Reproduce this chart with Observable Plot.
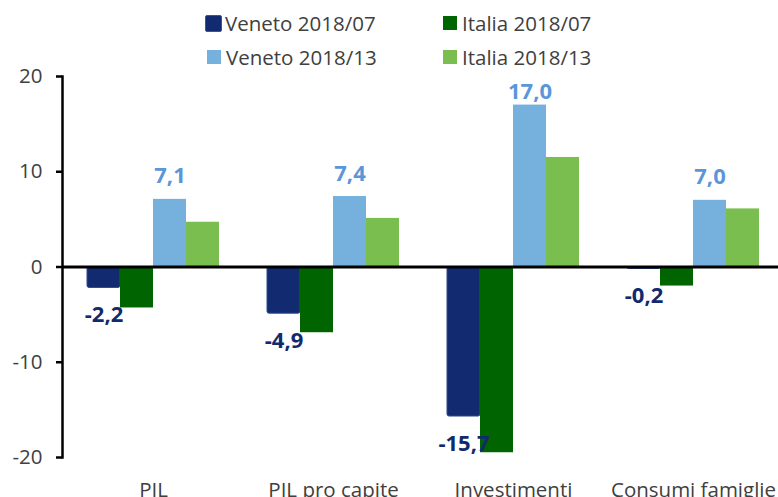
<!DOCTYPE html>
<html>
<head>
<meta charset="utf-8">
<script src="https://cdn.jsdelivr.net/npm/d3@7"></script>
<script src="https://cdn.jsdelivr.net/npm/@observablehq/plot@0.6"></script>
<style>
  html, body { margin: 0; padding: 0; background: #fff; }
  body { width: 778px; height: 497px; overflow: hidden; font-family: "Open Sans", sans-serif; }
  #legend { position: relative; height: 66px; width: 778px; font-size: 20.5px; color: #404040; }
  .item { position: absolute; display: flex; align-items: center; height: 24px; white-space: nowrap; }
  .sw { width: 14px; height: 14px; margin-right: 5px; box-sizing: border-box; }
</style>
</head>
<body>
<div id="legend"></div>
<div id="chart"></div>
<script>
const categories = ["PIL", "PIL pro capite", "Investimenti", "Consumi famiglie"];
const seriesNames = ["Veneto 2018/07", "Italia 2018/07", "Veneto 2018/13", "Italia 2018/13"];
const veneto07 = [-2.2, -4.9, -15.7, -0.2];
const italia07 = [-4.3, -6.9, -19.5, -2.0];
const veneto13 = [7.1, 7.4, 17.0, 7.0];
const italia13 = [4.7, 5.1, 11.5, 6.1];
const yTicks = [-20, -10, 0, 10, 20];

const colors = ["#112a70", "#006400", "#76b1de", "#7abe4f"];
const seriesValues = [veneto07, italia07, veneto13, italia13];
const rows = seriesValues.map((vals, i) =>
  categories.map((c, j) => ({category: c, value: vals[j], series: seriesNames[i]}))
);
const fmt = v => v.toFixed(1).replace(".", ",");

// Legend (HTML, above the SVG)
const legend = document.getElementById("legend");
const legendPos = [[207, 11], [443, 11], [207, 45], [443, 45]];
seriesNames.forEach((name, i) => {
  const it = document.createElement("div");
  it.className = "item";
  it.style.left = legendPos[i][0] + "px";
  it.style.top = legendPos[i][1] + "px";
  const sw = document.createElement("span");
  sw.className = "sw";
  sw.style.background = colors[i];
  if (i === 0) { sw.style.border = "1px solid #3a5596"; sw.style.borderRadius = "2px"; sw.style.width = "17px"; sw.style.height = "17px"; sw.style.marginLeft = "-2px"; sw.style.marginRight = "3px"; }
  const tx = document.createElement("span");
  tx.textContent = name;
  it.appendChild(sw);
  it.appendChild(tx);
  legend.appendChild(it);
});

const BW = 33; // single bar width in px
const marks = [];
rows.forEach((r, i) => {
  marks.push(Plot.barY(r, {
    x: "category", y: "value", fill: colors[i],
    insetLeft: BW * i, insetRight: BW * (3 - i),
    ...(i === 0 ? {stroke: "#2e4a8f", strokeWidth: 1, rx: 2} : {})
  }));
});
marks.push(Plot.ruleY([0], {stroke: "black", strokeWidth: 3}));
marks.push(Plot.frame({anchor: "left", stroke: "black", strokeWidth: 2.5}));
marks.push(Plot.axisY({ticks: yTicks, tickSize: 6, tickPadding: 14, stroke: "black", strokeWidth: 2.5, fill: "#404040", fontSize: 20.5, label: null, tickFormat: d => String(d)}));
marks.push(Plot.axisX({tickSize: 0, tickPadding: 25, fill: "#404040", fontSize: 20.5, label: null}));
marks.push(Plot.text(rows[0], {x: "category", y: "value", text: d => fmt(d.value), dx: -BW * 1.5, dy: 27, fill: "#112a6e", fontWeight: "bold", fontSize: 22}));
// labels kept inside the plot area (as the original spreadsheet does for the tallest bar)
marks.push(Plot.text(rows[2], {x: "category", y: d => Math.min(d.value, 16), text: d => fmt(d.value), dx: BW * 0.5, dy: -23, fill: "#5b96d8", fontWeight: "bold", fontSize: 22}));

const chart = Plot.plot({
  width: 778,
  height: 431,
  marginLeft: 62,
  marginRight: 0,
  marginTop: 10,
  marginBottom: 40,
  style: {fontSize: "20px", fontFamily: "Open Sans, sans-serif", color: "#404040", overflow: "visible", background: "transparent"},
  x: {domain: categories, range: [62, 784], paddingInner: 0.2687, paddingOuter: 0.1343, axis: null},
  y: {domain: [-20, 20], axis: null},
  marks
});
document.getElementById("chart").appendChild(chart);
</script>
</body>
</html>
